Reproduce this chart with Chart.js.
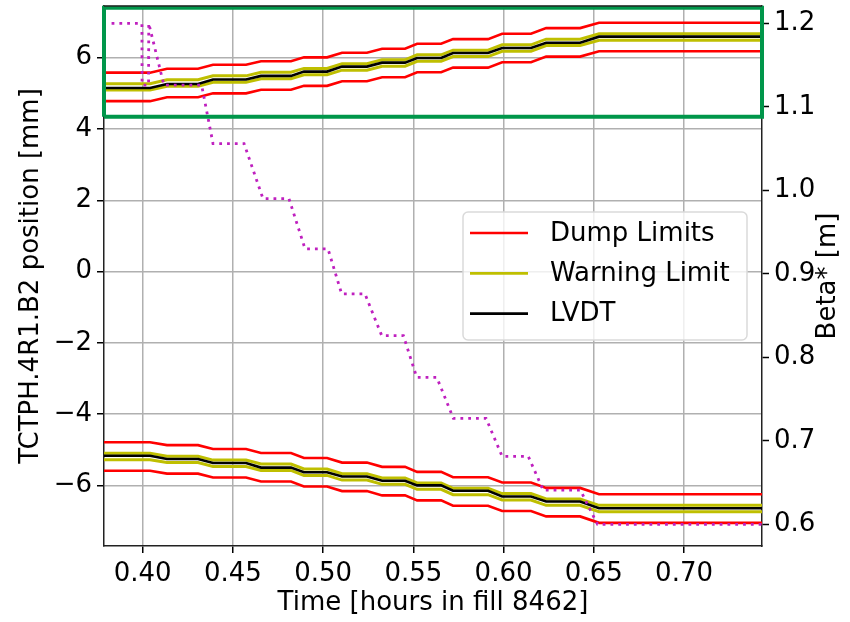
<!DOCTYPE html>
<html>
<head>
<meta charset="utf-8">
<script src="https://cdn.jsdelivr.net/npm/chart.js@4.4.1/dist/chart.umd.min.js"></script>
<style>
  html, body { margin: 0; padding: 0; background: #fff; }
  #wrap { width: 850px; height: 622px; }
</style>
</head>
<body>
<div id="wrap"><canvas id="chart" width="850" height="622"></canvas></div>
<script>
// axis ranges and tick labels
const xMin = 0.3786, xMax = 0.7432;
const yMin = -7.70, yMax = 7.45;
const y2Min = 0.5742, y2Max = 1.2207;
const xTicks = [0.40, 0.45, 0.50, 0.55, 0.60, 0.65, 0.70];
const leftTicks = [-6, -4, -2, 0, 2, 4, 6];
const rightTicks = [0.6, 0.7, 0.8, 0.9, 1.0, 1.1, 1.2];

// start / end of each jaw movement [hours in fill]
const rampStart = [0.4041, 0.4307, 0.4573, 0.4822, 0.5022, 0.5243, 0.5454, 0.5654, 0.5914, 0.6152, 0.6424];
const rampEnd   = [0.4135, 0.4390, 0.4656, 0.4894, 0.5105, 0.5327, 0.5521, 0.5720, 0.5992, 0.6236, 0.6529];

// upper jaw [mm], one value per plateau
const upDumpHigh = [5.58, 5.69, 5.80, 5.90, 6.01, 6.14, 6.25, 6.39, 6.52, 6.67, 6.83, 6.98];
const upDumpLow  = [4.78, 4.89, 5.00, 5.10, 5.21, 5.34, 5.45, 5.59, 5.72, 5.87, 6.03, 6.18];
const upWarnHigh = [5.27, 5.38, 5.49, 5.59, 5.70, 5.83, 5.94, 6.08, 6.21, 6.36, 6.52, 6.67];
const upWarnLow  = [5.09, 5.20, 5.31, 5.41, 5.52, 5.65, 5.76, 5.90, 6.03, 6.18, 6.34, 6.49];
const upLvdt     = [5.15, 5.26, 5.39, 5.49, 5.61, 5.75, 5.86, 5.99, 6.13, 6.27, 6.42, 6.59];

// lower jaw [mm]
const loDumpHigh = [-4.79, -4.87, -4.98, -5.09, -5.23, -5.36, -5.48, -5.62, -5.77, -5.92, -6.07, -6.25];
const loDumpLow  = [-5.59, -5.67, -5.78, -5.89, -6.03, -6.16, -6.28, -6.42, -6.57, -6.72, -6.87, -7.05];
const loWarnHigh = [-5.10, -5.18, -5.29, -5.40, -5.54, -5.67, -5.79, -5.93, -6.08, -6.23, -6.38, -6.56];
const loWarnLow  = [-5.28, -5.36, -5.47, -5.58, -5.72, -5.85, -5.97, -6.11, -6.26, -6.41, -6.56, -6.74];
const loLvdt     = [-5.17, -5.26, -5.37, -5.50, -5.63, -5.75, -5.87, -6.00, -6.15, -6.31, -6.45, -6.64];

// beta* [m]
const betaTimes  = [0.3828, 0.3996, 0.3997, 0.4033, 0.4034, 0.4118, 0.4327, 0.4390, 0.4562, 0.4667, 0.4811, 0.4900,
                    0.5027, 0.5103, 0.5232, 0.5325, 0.5445, 0.5519, 0.5630, 0.5722, 0.5903, 0.5992, 0.6137, 0.6220,
                    0.6426, 0.6521, 0.7432];
const betaValues = [1.2, 1.2, 1.126, 1.126, 1.2, 1.126, 1.126, 1.056, 1.056, 0.990, 0.990, 0.930,
                    0.930, 0.876, 0.876, 0.826, 0.826, 0.776, 0.776, 0.727, 0.727, 0.6815, 0.6815, 0.641,
                    0.641, 0.60, 0.60];

// highlighted region (green box)
const boxX = [xMin, xMax];
const boxY = [4.34, 7.40];

const RED = "#ff0000";
const YELLOW = "#bfbf00";
const BLACK = "#000000";
const MAGENTA = "#bf20bf";
const GREEN = "#00964a";
const FONT = "'DejaVu Sans', sans-serif";

function steps(levels) {
  const pts = [{ x: xMin, y: levels[0] }];
  for (let i = 0; i < rampStart.length; i++) {
    pts.push({ x: rampStart[i], y: levels[i] });
    pts.push({ x: rampEnd[i], y: levels[i + 1] });
  }
  pts.push({ x: xMax, y: levels[levels.length - 1] });
  return pts;
}

function stepLine(levels, color, order, width) {
  return {
    data: steps(levels),
    borderColor: color,
    borderWidth: width || 2.6,
    pointRadius: 0,
    tension: 0,
    yAxisID: "y",
    order: order,
  };
}

const legendEntries = [
  { text: "Dump Limits", color: RED },
  { text: "Warning Limit", color: YELLOW },
  { text: "LVDT", color: BLACK },
];

const decorPlugin = {
  id: "decor",
  afterDraw(chart) {
    const { ctx, chartArea } = chart;
    ctx.save();

    // top spine
    ctx.strokeStyle = "#222";
    ctx.lineWidth = 1.5;
    ctx.beginPath();
    ctx.moveTo(chartArea.left, chartArea.top);
    ctx.lineTo(chartArea.right, chartArea.top);
    ctx.stroke();

    // right axis title, reading upwards like the left one
    ctx.fillStyle = "#000";
    ctx.font = "26px " + FONT;
    ctx.textAlign = "center";
    ctx.textBaseline = "middle";
    ctx.translate(chartArea.right + 66, (chartArea.top + chartArea.bottom) / 2);
    ctx.rotate(-Math.PI / 2);
    ctx.fillText("Beta* [m]", 0, 0);
    ctx.restore();

    // legend, centre right
    ctx.save();
    const w = 284, h = 128;
    const lx = chartArea.right - 15 - w;
    const ly = (chartArea.top + chartArea.bottom) / 2 - h / 2;
    ctx.fillStyle = "rgba(255,255,255,0.8)";
    ctx.strokeStyle = "#dadada";
    ctx.lineWidth = 1.5;
    ctx.beginPath();
    ctx.roundRect(lx, ly, w, h, 5);
    ctx.fill();
    ctx.stroke();
    ctx.font = "26px " + FONT;
    ctx.textAlign = "left";
    ctx.textBaseline = "middle";
    legendEntries.forEach((e, i) => {
      const ry = ly + 21 + i * 40.3;
      ctx.strokeStyle = e.color;
      ctx.lineWidth = 2.7;
      ctx.beginPath();
      ctx.moveTo(lx + 7, ry);
      ctx.lineTo(lx + 65, ry);
      ctx.stroke();
      ctx.fillStyle = "#000";
      ctx.fillText(e.text, lx + 87, ry + 1);
    });
    ctx.restore();
  },
};

const minus = (s) => s.replace("-", "\u2212");

function fitVertical(width) {
  return (s) => {
    s.width = width;
    s.paddingTop = 0;
    s.paddingBottom = 0;
  };
}

new Chart(document.getElementById("chart"), {
  type: "line",
  data: {
    datasets: [
      {
        data: [
          { x: boxX[0], y: boxY[0] }, { x: boxX[1], y: boxY[0] },
          { x: boxX[1], y: boxY[1] }, { x: boxX[0], y: boxY[1] },
          { x: boxX[0], y: boxY[0] },
        ],
        borderColor: GREEN,
        borderWidth: 4,
        pointRadius: 0,
        tension: 0,
        clip: false,
        yAxisID: "y",
        order: -1,
      },
      {
        data: betaTimes.map((t, i) => ({ x: t, y: betaValues[i] })),
        borderColor: MAGENTA,
        borderWidth: 2.8,
        borderDash: [2.8, 5],
        pointRadius: 0,
        tension: 0,
        yAxisID: "y2",
        order: 0,
      },
      stepLine(upLvdt, BLACK, 1),
      stepLine(loLvdt, BLACK, 1),
      stepLine(upWarnHigh, YELLOW, 2, 3),
      stepLine(upWarnLow, YELLOW, 2, 3),
      stepLine(loWarnHigh, YELLOW, 2, 3),
      stepLine(loWarnLow, YELLOW, 2, 3),
      stepLine(upDumpHigh, RED, 3),
      stepLine(upDumpLow, RED, 3),
      stepLine(loDumpHigh, RED, 3),
      stepLine(loDumpLow, RED, 3),
    ],
  },
  options: {
    responsive: false,
    animation: false,
    layout: { padding: { top: 6, left: 0, right: 0, bottom: 0 } },
    plugins: { legend: { display: false }, tooltip: { enabled: false } },
    scales: {
      x: {
        type: "linear",
        min: xMin,
        max: xMax,
        afterBuildTicks: (s) => { s.ticks = xTicks.map((v) => ({ value: v })); },
        afterFit: (s) => { s.height = 76; s.paddingLeft = 0; s.paddingRight = 0; },
        ticks: { color: "#000", font: { family: FONT, size: 26 }, padding: 6, maxRotation: 0,
                 callback: (v) => v.toFixed(2) },
        grid: { color: "#b0b0b0", lineWidth: 1.5, tickColor: "#000", tickLength: 7, tickWidth: 1.5 },
        border: { color: "#222", width: 1.5 },
        title: { display: true, text: "Time [hours in fill 8462]", color: "#000",
                 font: { family: FONT, size: 26 }, padding: { top: 0, bottom: 3 } },
      },
      y: {
        type: "linear",
        position: "left",
        min: yMin,
        max: yMax,
        afterBuildTicks: (s) => { s.ticks = leftTicks.map((v) => ({ value: v })); },
        afterFit: fitVertical(104),
        ticks: { color: "#000", font: { family: FONT, size: 26 }, padding: 5,
                 callback: (v) => minus(String(v)) },
        grid: { color: "#b0b0b0", lineWidth: 1.5, tickColor: "#000", tickLength: 7, tickWidth: 1.5 },
        border: { color: "#222", width: 1.5 },
        title: { display: true, text: "TCTPH.4R1.B2 position [mm]", color: "#000",
                 font: { family: FONT, size: 26 }, padding: { top: 16, bottom: 0 } },
      },
      y2: {
        type: "linear",
        position: "right",
        min: y2Min,
        max: y2Max,
        afterBuildTicks: (s) => { s.ticks = rightTicks.map((v) => ({ value: v })); },
        afterFit: fitVertical(88),
        ticks: { color: "#000", font: { family: FONT, size: 26 }, padding: 5,
                 callback: (v) => v.toFixed(1) },
        grid: { drawOnChartArea: false, tickColor: "#000", tickLength: 7, tickWidth: 1.5 },
        border: { color: "#222", width: 1.5 },
      },
    },
  },
  plugins: [decorPlugin],
});
</script>
</body>
</html>
